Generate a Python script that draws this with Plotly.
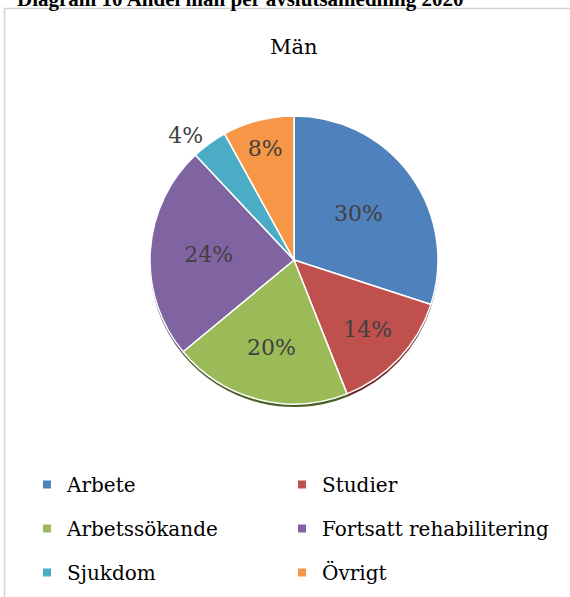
import plotly.graph_objects as go

W, H = 570, 597

categories = ["Arbete", "Studier", "Arbetssökande", "Fortsatt rehabilitering", "Sjukdom", "Övrigt"]
values = [30, 14, 20, 24, 4, 8]
colors = ["#4F81BD", "#C0504D", "#9BBB59", "#8064A2", "#4BACC6", "#F79646"]
shadow_colors = ["#2E4E74", "#6E2A28", "#4E6128", "#47385C", "#2A6676", "#8E5222"]
text_positions = ["inside", "inside", "inside", "inside", "outside", "inside"]
legend_left = ["Arbete", "Arbetssökande", "Sjukdom"]
legend_right = ["Studier", "Fortsatt rehabilitering", "Övrigt"]

FONT = "DejaVu Serif"
TXT = "#404040"

def px_x(x):
    return x / W

def px_y(y):
    return (H - y) / H

cx, cy, r = 294, 260, 144
dom_x = [px_x(cx - r), px_x(cx + r)]
dom_y = [px_y(cy + r), px_y(cy - r)]
sh = 3
dom_y_sh = [px_y(cy + r + sh), px_y(cy - r + sh)]

fig = go.Figure()

# shadow pie
fig.add_trace(go.Pie(
    labels=categories, values=values, sort=False, direction="clockwise",
    marker=dict(colors=shadow_colors, line=dict(color="rgba(0,0,0,0)", width=0)),
    textinfo="none", hoverinfo="skip", showlegend=False,
    domain=dict(x=dom_x, y=dom_y_sh),
))

# main pie
fig.add_trace(go.Pie(
    labels=categories, values=values, sort=False, direction="clockwise",
    marker=dict(colors=colors, line=dict(color="white", width=1.5)),
    texttemplate="%{percent:.0%}", textposition=text_positions,
    insidetextorientation="horizontal",
    textfont=dict(family=FONT, size=22, color=TXT),
    insidetextfont=dict(family=FONT, size=22, color=TXT),
    outsidetextfont=dict(family=FONT, size=22, color=TXT),
    showlegend=False,
    domain=dict(x=dom_x, y=dom_y),
))

# legend entries
for name in categories:
    i = categories.index(name)
    fig.add_trace(go.Scatter(
        x=[None], y=[None], mode="markers", name=name,
        marker=dict(symbol="square", size=8, color=colors[i]),
        legendgroup=name,
        legend="legend" if name in legend_left else "legend2",
        hoverinfo="skip",
    ))

leg_common = dict(
    orientation="v", traceorder="grouped", tracegroupgap=15,
    font=dict(family=FONT, size=20, color="#000000"),
    bgcolor="rgba(0,0,0,0)", borderwidth=0,
    xanchor="left", yanchor="top",
)

fig.update_layout(
    width=W, height=H,
    margin=dict(l=0, r=0, t=0, b=0),
    paper_bgcolor="white", plot_bgcolor="white",
    xaxis=dict(visible=False), yaxis=dict(visible=False),
    legend=dict(x=px_x(27), y=px_y(465), **leg_common),
    legend2=dict(x=px_x(282), y=px_y(465), **leg_common),
    annotations=[
        dict(text="Män", x=px_x(294), y=px_y(47), xref="paper", yref="paper",
             xanchor="center", yanchor="middle", showarrow=False,
             font=dict(family=FONT, size=21, color="#000000")),
        dict(text="<b>Diagram 10 Andel män per avslutsanledning 2020</b>",
             x=px_x(15), y=px_y(-1), xref="paper", yref="paper",
             xanchor="left", yanchor="middle", showarrow=False,
             font=dict(family="Liberation Serif", size=21, color="#000000")),
    ],
    shapes=[
        dict(type="rect", xref="paper", yref="paper",
             x0=px_x(4.5), x1=px_x(600), y0=px_y(620), y1=px_y(8.5),
             line=dict(color="#D4D4D4", width=1.5), fillcolor="rgba(0,0,0,0)",
             layer="above"),
    ],
)

fig.write_html(
    "out.html",
    config={"displayModeBar": False},
    post_script="document.body.style.margin='0px';document.body.style.overflow='hidden';",
)
